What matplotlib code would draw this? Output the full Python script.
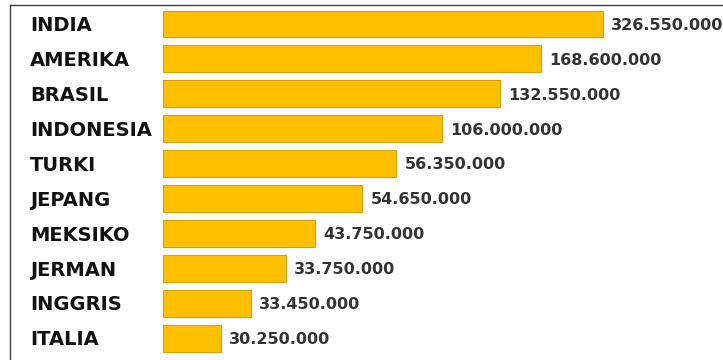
import matplotlib
matplotlib.use("Agg")
from matplotlib import pyplot as plt
from matplotlib.lines import Line2D
from matplotlib.transforms import blended_transform_factory

# データ
countries = ["INDIA", "AMERIKA", "BRASIL", "INDONESIA", "TURKI",
             "JEPANG", "MEKSIKO", "JERMAN", "INGGRIS", "ITALIA"]
values = [326550000, 168600000, 132550000, 106000000, 56350000,
          54650000, 43750000, 33750000, 33450000, 30250000]
# 元の図のバーはラベルの値に比例していないので、見た目の長さを別に持つ
bar_lengths = [326.5, 280.5, 250.0, 207.0, 173.0, 148.0, 113.0, 91.0, 65.0, 43.0]

fig = plt.figure(figsize=(7.23, 3.6), dpi=100)
ax = fig.add_axes([163 / 723, 0, 560 / 723, 1])

pos = list(range(len(countries)))
ax.barh(pos, bar_lengths, height=0.77, color="#FFC000", edgecolor="#D4A20A", linewidth=0.8)

ax.set_xlim(0, 326.5 * 560 / 440)
ax.set_ylim(9.628, -0.688)
ax.axis("off")

# 国名ラベル
trans = blended_transform_factory(fig.transFigure, ax.transData)
for i, name in enumerate(countries):
    ax.text(30 / 723, i + 0.05, name, transform=trans, ha="left", va="center",
            fontsize=14, fontweight="bold", family="DejaVu Sans", color="#111111")

# 値ラベル
for i, (v, L) in enumerate(zip(values, bar_lengths)):
    txt = f"{v:,}".replace(",", ".")
    ax.annotate(txt, (L, i), xytext=(6, -1), textcoords="offset points",
                ha="left", va="center", fontsize=11.5, fontweight="bold",
                family="DejaVu Sans", color="#333333")

# 枠線
fig.add_artist(Line2D([10 / 723, 10 / 723], [0, 1 - 5 / 360], color="#404040", lw=1,
                      transform=fig.transFigure))
fig.add_artist(Line2D([10 / 723, 1], [1 - 5 / 360, 1 - 5 / 360], color="#404040", lw=1,
                      transform=fig.transFigure))

fig.savefig("out.png", dpi=100)
